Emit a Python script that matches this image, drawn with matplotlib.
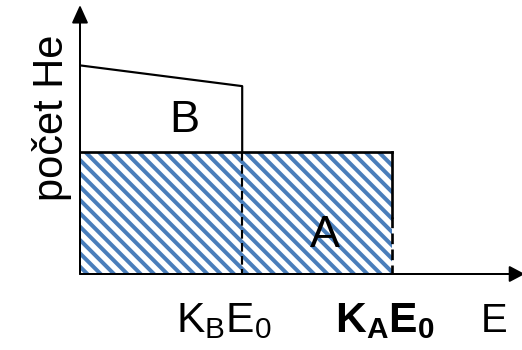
import matplotlib
matplotlib.use("Agg")
import matplotlib.pyplot as plt
from matplotlib.patches import Rectangle

# energy axis: K_B*E0 and K_A*E0 (K_A*E0 taken as 1)
e_marks = [0.52, 1.0]
e_labels = [r"$\mathrm{K_BE_0}$", r"$\mathbf{K_AE_0}$"]
e_label_x = [0.46, 0.976]
# number of He particles
count_A = 1.0
count_B = [1.71, 1.54]   # at E=0 and at K_B*E0
region_names = ["A", "B"]

x_max, y_max = 1.417, 2.205

blue = "#4a7ebb"
plt.rcParams["font.family"] = "Liberation Sans"
plt.rcParams["mathtext.fontset"] = "custom"
plt.rcParams["mathtext.rm"] = "Liberation Sans"
plt.rcParams["mathtext.bf"] = "Liberation Sans:bold"
plt.rcParams["hatch.linewidth"] = 2.4
plt.rcParams["hatch.color"] = blue

DPI = 120
fig = plt.figure(figsize=(522 / DPI, 350 / DPI), dpi=DPI)
ax = fig.add_axes([80 / 522, 76 / 350, 442 / 522, 269 / 350])
ax.set_xlim(0, x_max)
ax.set_ylim(0, y_max)
ax.axis("off")

kB, kA = e_marks

# hatched area A
ax.add_patch(Rectangle((0, 0), kA, count_A, facecolor="white",
                       edgecolor=blue, lw=0, hatch="\\\\\\"))
ax.plot([0, kA], [count_A, count_A], color="k", lw=1.6)
ax.plot([kA, kA], [count_A, 0.47], color="k", lw=1.6)
ax.plot([kA, kA], [0.47, 0], color="k", lw=1.6, dashes=(4, 2))

# curve bounding B
ax.plot([0, kB, kB], [count_B[0], count_B[1], count_A], color="k", lw=1.3)
ax.plot([kB, kB], [count_A, 0], color="k", lw=1.3, dashes=(4, 2))

# axes with arrows
ax.annotate("", xy=(0, y_max), xytext=(0, 0), annotation_clip=False,
            arrowprops=dict(arrowstyle="-|>,head_length=0.42,head_width=0.19",
                            color="k", lw=1.2, shrinkA=0, shrinkB=0,
                            mutation_scale=21.6))
ax.annotate("", xy=(1.426, 0), xytext=(0, 0), annotation_clip=False,
            arrowprops=dict(arrowstyle="-|>,head_length=0.36,head_width=0.19",
                            color="k", lw=1.2, shrinkA=0, shrinkB=0,
                            mutation_scale=21.6))

ax.text(0.785, 0.221, region_names[0], fontsize=27, ha="center", va="baseline")
ax.text(0.333, 1.164, region_names[1], fontsize=27, ha="center", va="baseline")

for x, lab in zip(e_label_x, e_labels):
    ax.text(x, -0.475, lab, fontsize=25.5, ha="center", va="baseline", clip_on=False)
ax.text(1.3285, -0.475, "E", fontsize=24, ha="center", va="baseline", clip_on=False)

ax.text(-0.0545, 1.279, "počet He", fontsize=25, rotation=90,
        rotation_mode="anchor", ha="center", va="baseline", clip_on=False)

fig.savefig("out.png", dpi=DPI)
